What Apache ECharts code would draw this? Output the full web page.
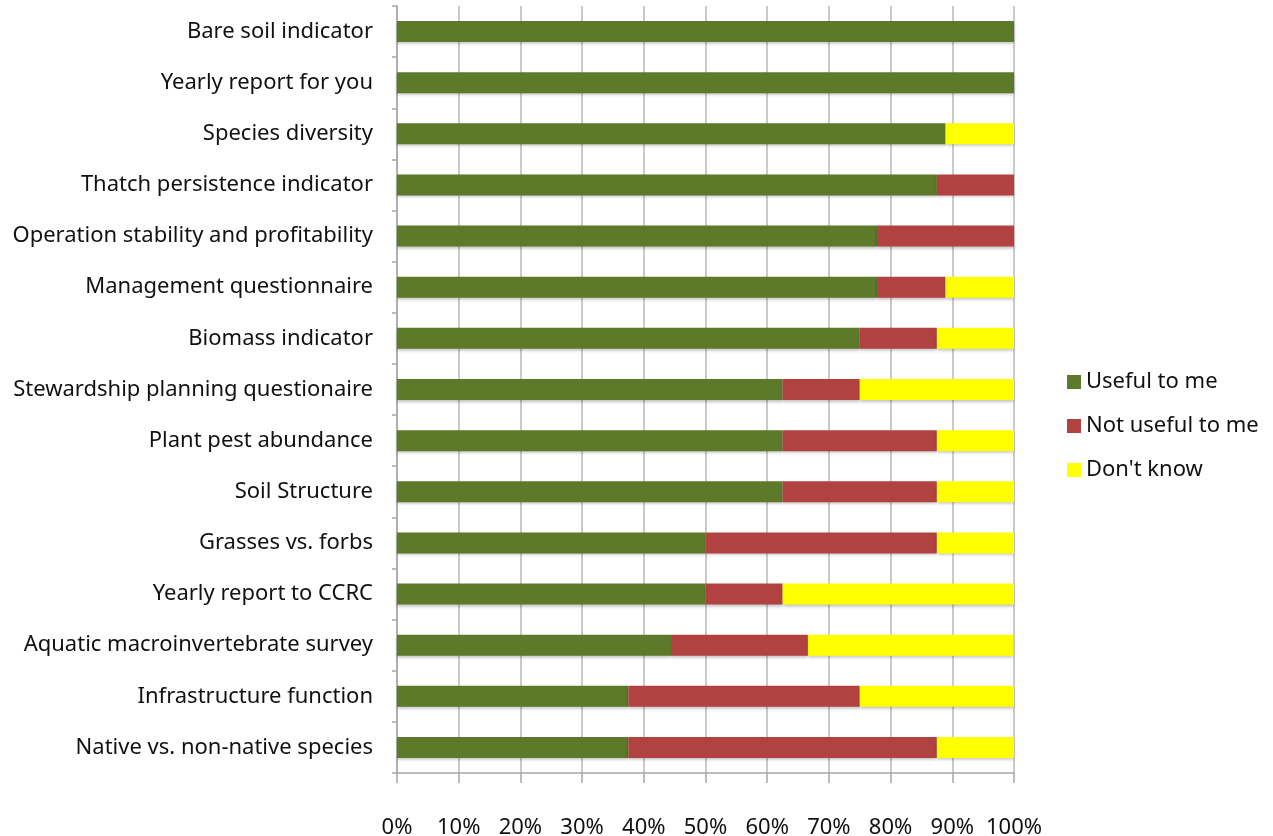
<!DOCTYPE html>
<html>
<head>
<meta charset="utf-8">
<script src="https://cdn.jsdelivr.net/npm/echarts@6/dist/echarts.min.js"></script>
<style>html,body{margin:0;padding:0;background:#fff}#c{width:1273px;height:836px}</style>
</head>
<body>
<div id="c"></div>
<script>
const categories = [
  "Bare soil indicator",
  "Yearly report for you",
  "Species diversity",
  "Thatch persistence indicator",
  "Operation stability and profitability",
  "Management questionnaire",
  "Biomass indicator",
  "Stewardship planning questionaire",
  "Plant pest abundance",
  "Soil Structure",
  "Grasses vs. forbs",
  "Yearly report to CCRC",
  "Aquatic macroinvertebrate survey",
  "Infrastructure function",
  "Native vs. non-native species"
];
const useful    = [100, 100, 88.9, 87.5, 77.8, 77.8, 75.0, 62.5, 62.5, 62.5, 50.0, 50.0, 44.4, 37.5, 37.5];
const notUseful = [0, 0, 0, 12.5, 22.2, 11.1, 12.5, 12.5, 25.0, 25.0, 37.5, 12.5, 22.2, 37.5, 50.0];
const dontKnow  = [0, 0, 11.1, 0, 0, 11.1, 12.5, 25.0, 12.5, 12.5, 12.5, 37.5, 33.3, 25.0, 12.5];
const seriesNames = ["Useful to me", "Not useful to me", "Don't know"];
const colors = ["#5c7a29", "#b24240", "#ffff00"];

const FONT = "Noto Sans";
const chart = echarts.init(document.getElementById('c'));
const shadow = {shadowColor: 'rgba(0,0,0,0.25)', shadowBlur: 3, shadowOffsetY: 2};
function mk(name, data, i) {
  return {
    name, type: 'bar', stack: 'all', data, barWidth: 21,
    itemStyle: Object.assign({color: colors[i]}, shadow)
  };
}
chart.setOption({
  animation: false,
  textStyle: {fontFamily: FONT},
  grid: {left: 397, right: 259, top: 6, bottom: 63, containLabel: false, outerBoundsMode: 'none'},
  legend: {
    orient: 'vertical', left: 1062, top: 366, itemGap: 22,
    itemWidth: 14, itemHeight: 14, icon: 'rect',
    textStyle: {fontFamily: FONT, fontSize: 22, color: '#111', padding: [0, 0, 0, 0]},
    data: seriesNames
  },
  xAxis: {
    type: 'value', min: 0, max: 100, interval: 10,
    axisLine: {show: true, lineStyle: {color: '#a6a6a6', width: 1.5}},
    axisTick: {show: true, length: 10, lineStyle: {color: '#a6a6a6', width: 1.5}},
    splitLine: {show: true, lineStyle: {color: '#b8b8b8', width: 1.5}},
    axisLabel: {formatter: '{value}%', margin: 44, fontSize: 22, color: '#111', fontFamily: FONT}
  },
  yAxis: {
    type: 'category', data: categories, inverse: true,
    axisLine: {show: true, lineStyle: {color: '#a6a6a6', width: 1.5}},
    axisTick: {show: true, length: 5, lineStyle: {color: '#a6a6a6', width: 1.5}},
    axisLabel: {margin: 24, fontSize: 22, color: '#111', fontFamily: FONT}
  },
  series: [mk(seriesNames[0], useful, 0), mk(seriesNames[1], notUseful, 1), mk(seriesNames[2], dontKnow, 2)]
});
</script>
</body>
</html>
